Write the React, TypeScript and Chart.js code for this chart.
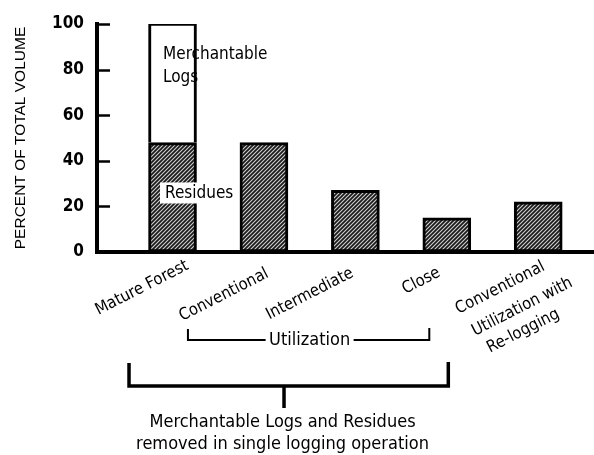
import React, { useEffect, useRef } from "react";
import { Chart, registerables } from "chart.js";

Chart.register(...registerables);

// ---- data ----
const categories: (string | string[])[] = [
  "Mature Forest",
  "Conventional",
  "Intermediate",
  "Close",
  ["Conventional", "Utilization with", "Re-logging"],
];
const residues = [48, 48, 27, 15, 22];
const merchantableLogs: (number | null)[] = [52, null, null, null, null];
const yTickValues = [0, 20, 40, 60, 80, 100];
const yTitle = "PERCENT OF TOTAL VOLUME";
const groupLabel = "Utilization";
const footnoteLines = ["Merchantable Logs and Residues", "removed in single logging operation"];

const FONT = "'DejaVu Sans Condensed', 'DejaVu Sans', sans-serif";
const TICK_FONT = "'Liberation Sans Narrow', 'DejaVu Sans Condensed', sans-serif";

function makeHatch(ctx: CanvasRenderingContext2D) {
  const c = document.createElement("canvas");
  c.width = 4;
  c.height = 4;
  const g = c.getContext("2d")!;
  g.fillStyle = "#1a1a1a";
  g.fillRect(0, 0, 4, 4);
  g.strokeStyle = "#d0d0d0";
  g.lineWidth = 1.1;
  g.beginPath();
  g.moveTo(0, 4);
  g.lineTo(4, 0);
  g.moveTo(-1, 1);
  g.lineTo(1, -1);
  g.moveTo(3, 5);
  g.lineTo(5, 3);
  g.stroke();
  return ctx.createPattern(c, "repeat");
}

const annotPlugin = {
  id: "annot",
  afterDraw(chart: any) {
    const { ctx, chartArea } = chart;
    const x = chart.scales.x;
    const y = chart.scales.y;
    const px = (i: number) => x.getPixelForValue(i + 1);
    ctx.save();
    ctx.fillStyle = "#000";
    ctx.strokeStyle = "#000";

    // inward y tick marks
    ctx.lineWidth = 2.5;
    yTickValues.forEach((v) => {
      const py = Math.round(y.getPixelForValue(v)) + 0.5;
      if (v === 0) return;
      ctx.beginPath();
      ctx.moveTo(chartArea.left, py);
      ctx.lineTo(chartArea.left + 13, py);
      ctx.stroke();
    });

    // in-bar labels
    ctx.font = `17px ${FONT}`;
    ctx.textAlign = "left";
    ctx.textBaseline = "alphabetic";
    const ml = String(chart.data.datasets[1].label).split(" ");
    ctx.fillText(ml[0], px(0) - 9.5, y.getPixelForValue(84.5));
    ctx.fillText(ml[1], px(0) - 9.5, y.getPixelForValue(74.5));

    const resLabel = String(chart.data.datasets[0].label);
    const rx = px(0) - 12.5;
    const ry = y.getPixelForValue(30.5);
    ctx.fillStyle = "#fff";
    ctx.fillRect(rx, ry, 74, 21);
    ctx.fillStyle = "#000";
    ctx.fillText(resLabel, rx + 5, y.getPixelForValue(23.5));

    // rotated category labels
    const angle = (-27 * Math.PI) / 180;
    const pos = [
      [[-30.5, 288]],
      [[-40, 295]],
      [[-45.5, 294]],
      [[-25.5, 281]],
      [
        [-38, 288],
        [-16, 307],
        [-15, 331],
      ],
    ];
    ctx.font = `16.5px ${FONT}`;
    ctx.textAlign = "center";
    ctx.textBaseline = "middle";
    categories.forEach((cat, i) => {
      const lines = Array.isArray(cat) ? cat : [cat];
      lines.forEach((ln, j) => {
        const [dx, cy] = pos[i][j];
        ctx.save();
        ctx.translate(px(i) + dx, cy);
        ctx.rotate(angle);
        ctx.fillText(ln, 0, 0);
        ctx.restore();
      });
    });

    // Utilization bracket
    const uL = px(1) - 76;
    const uR = px(3) - 17.5;
    const uY = 340;
    const uMid = (uL + uR) / 2;
    ctx.lineWidth = 2;
    ctx.beginPath();
    ctx.moveTo(uL, 329);
    ctx.lineTo(uL, uY);
    ctx.lineTo(uMid - 43, uY);
    ctx.moveTo(uMid + 45, uY);
    ctx.lineTo(uR, uY);
    ctx.lineTo(uR, 328);
    ctx.stroke();
    ctx.font = `18px ${FONT}`;
    ctx.textAlign = "center";
    ctx.textBaseline = "middle";
    ctx.fillText(groupLabel, uMid + 1, uY);

    // big bracket
    const bL = px(0) - 43.5;
    const bR = px(3) + 1.5;
    const bY = 386;
    ctx.lineWidth = 3.5;
    ctx.beginPath();
    ctx.moveTo(bL, 363);
    ctx.lineTo(bL, bY);
    ctx.lineTo(bR, bY);
    ctx.lineTo(bR, 362);
    ctx.stroke();
    const stemX = bL + 155;
    ctx.beginPath();
    ctx.moveTo(stemX, bY);
    ctx.lineTo(stemX, 408);
    ctx.stroke();
    ctx.fillText(footnoteLines[0], stemX - 1.5, 422);
    ctx.fillText(footnoteLines[1], stemX - 1.5, 444);

    ctx.restore();
  },
};

export default function App() {
  const ref = useRef<HTMLCanvasElement | null>(null);
  useEffect(() => {
    const canvas = ref.current!;
    const ctx = canvas.getContext("2d")!;
    const hatch = makeHatch(ctx);
    const chart = new Chart(canvas, {
      type: "bar",
      data: {
        datasets: [
          {
            label: "Residues",
            data: residues.map((v, i) => ({ x: i + 1, y: v })),
            backgroundColor: hatch as any,
            borderColor: "#000",
            borderWidth: 3,
            borderSkipped: false,
            barThickness: 48,
            stack: "s",
          },
          {
            label: "Merchantable Logs",
            data: merchantableLogs.map((v, i) => ({ x: i + 1, y: v })),
            backgroundColor: "#fff",
            borderColor: "#000",
            borderWidth: { top: 2, left: 3, right: 3, bottom: 0 },
            borderSkipped: "bottom",
            barThickness: 48,
            stack: "s",
          },
        ],
      } as any,
      options: {
        animation: false,
        responsive: false,
        events: [],
        layout: { padding: { top: 24, right: 0, left: 0, bottom: 0 } },
        plugins: {
          legend: { display: false },
          tooltip: { enabled: false },
        },
        scales: {
          x: {
            type: "linear",
            offset: false,
            min: 0.174,
            max: 5.61,
            stacked: true,
            grid: { display: false, drawTicks: false },
            border: { display: true, color: "#000", width: 4 },
            ticks: { display: false },
            afterFit: (s: any) => {
              s.height = 203;
              s.paddingLeft = 0;
              s.paddingRight = 0;
            },
          },
          y: {
            min: 0,
            max: 100,
            stacked: true,
            afterBuildTicks: (s: any) => {
              s.ticks = yTickValues.map((v) => ({ value: v }));
            },
            ticks: {
              color: "#000",
              padding: 13,
              font: { family: TICK_FONT, size: 17, weight: "bold" },
            },
            grid: { display: false, drawTicks: false },
            border: { display: true, color: "#000", width: 4 },
            title: {
              display: true,
              text: yTitle,
              color: "#000",
              font: { family: "'Liberation Sans', Arial, sans-serif", size: 15.5 },
              padding: { top: 11, bottom: 0 },
            },
            afterFit: (s: any) => {
              s.width = 97;
              s.paddingTop = 0;
              s.paddingBottom = 0;
            },
          },
        },
      } as any,
      plugins: [annotPlugin],
    });
    return () => chart.destroy();
  }, []);
  return (
    <div style={{ position: "absolute", left: 0, top: 0, width: 594, height: 455, background: "#fff" }}>
      <canvas ref={ref} width={594} height={455} style={{ display: "block", width: 594, height: 455 }} />
    </div>
  );
}
